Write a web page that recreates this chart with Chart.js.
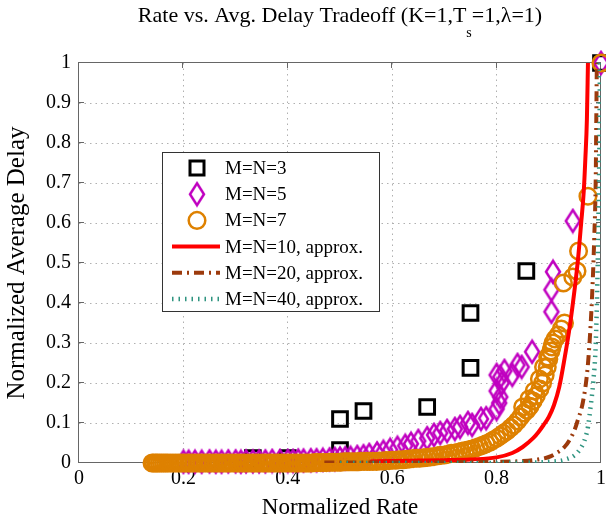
<!DOCTYPE html>
<html>
<head>
<meta charset="utf-8">
<script src="https://cdn.jsdelivr.net/npm/chart.js@4.4.1/dist/chart.umd.min.js"></script>
<style>
body { margin: 0; background: #fff; }
</style>
</head>
<body>
<canvas id="tradeoffChart" width="606" height="525"></canvas>
<script>
// values
const titleParts = [
    { text: 'Rate vs. Avg. Delay Tradeoff (K=1,T' },
    { text: 's', sub: true },
    { text: '=1,\u03bb=1)' }
]
const xAxisLabel = 'Normalized Rate'
const yAxisLabel = 'Normalized Average Delay'
const xTicks = [0, 0.2, 0.4, 0.6, 0.8, 1]
const yTicks = [0, 0.1, 0.2, 0.3, 0.4, 0.5, 0.6, 0.7, 0.8, 0.9, 1]
const seriesNames = ['M=N=3', 'M=N=5', 'M=N=7', 'M=N=10, approx.', 'M=N=20, approx.', 'M=N=40, approx.']

// M=N=3 (squares)
const n3Rate = [0.333, 0.4, 0.5, 0.5, 0.545, 0.667, 0.75, 0.75, 0.857, 1]
const n3Delay = [0.012, 0.012, 0.032, 0.11, 0.13, 0.14, 0.238, 0.375, 0.48, 1]

// M=N=5 (diamonds)
const n5Rate = [0.2, 0.21, 0.222, 0.235, 0.25, 0.262, 0.273, 0.286, 0.3, 0.31, 0.32, 0.333, 0.345, 0.357,
    0.37, 0.385, 0.4, 0.41, 0.42, 0.43, 0.444, 0.455, 0.467, 0.48, 0.49, 0.5, 0.51, 0.52, 0.533, 0.545,
    0.556, 0.571, 0.583, 0.596, 0.61, 0.625, 0.636, 0.65, 0.667, 0.68, 0.692, 0.705, 0.72, 0.73, 0.745,
    0.753, 0.77, 0.78, 0.8, 0.805, 0.807, 0.8, 0.81, 0.807, 0.8, 0.815, 0.83, 0.84, 0.848, 0.868,
    0.905, 0.905, 0.908, 0.946, 1]
const n5Delay = [0.003, 0.003, 0.003, 0.003, 0.004, 0.003, 0.003, 0.004, 0.004, 0.003, 0.004, 0.004, 0.004, 0.004,
    0.005, 0.005, 0.005, 0.005, 0.006, 0.006, 0.007, 0.007, 0.008, 0.009, 0.01, 0.011, 0.012, 0.013, 0.015, 0.017,
    0.02, 0.024, 0.028, 0.033, 0.038, 0.043, 0.048, 0.055, 0.062, 0.07, 0.075, 0.08, 0.085, 0.09, 0.1,
    0.095, 0.11, 0.112, 0.135, 0.15, 0.165, 0.18, 0.2, 0.215, 0.22, 0.23, 0.22, 0.245, 0.24, 0.278,
    0.378, 0.433, 0.478, 0.605, 1]

// M=N=7 (circles)
const n7Rate = [0.14, 0.143, 0.147, 0.15, 0.154, 0.158, 0.162, 0.166, 0.17, 0.175, 0.18, 0.185, 0.19, 0.195,
    0.2, 0.205, 0.21, 0.215, 0.22, 0.226, 0.231, 0.236, 0.242, 0.247, 0.252, 0.258, 0.263, 0.268, 0.274,
    0.28, 0.285, 0.29, 0.296, 0.302, 0.307, 0.313, 0.318, 0.324, 0.33, 0.335, 0.34, 0.346, 0.352, 0.357,
    0.363, 0.368, 0.374, 0.38, 0.385, 0.39, 0.396, 0.402, 0.407, 0.413, 0.418, 0.424, 0.43, 0.435, 0.44,
    0.446, 0.452, 0.457, 0.463, 0.468, 0.474, 0.48, 0.485, 0.49, 0.496, 0.502, 0.507, 0.513, 0.518, 0.524,
    0.53, 0.535, 0.54, 0.546, 0.552, 0.557, 0.563, 0.57, 0.576, 0.582, 0.588, 0.594, 0.6, 0.607, 0.613,
    0.62, 0.627, 0.633, 0.64, 0.647, 0.653, 0.66, 0.667, 0.673, 0.68, 0.687, 0.693, 0.7, 0.707, 0.713,
    0.72, 0.727, 0.733, 0.74, 0.747, 0.753, 0.76, 0.767, 0.773, 0.78, 0.787, 0.793, 0.8, 0.807, 0.813,
    0.82, 0.827, 0.833, 0.84, 0.846, 0.852, 0.858, 0.864, 0.87, 0.876, 0.883, 0.888, 0.893, 0.897, 0.9,
    0.904, 0.908, 0.912, 0.918, 0.924, 0.93, 0.928, 0.946, 0.954, 0.957, 0.975, 1,
    0.85, 0.862, 0.872, 0.882, 0.89, 0.898, 0.906]
const n7Delay = [0, 0, 0, 0, 0, 0, 0, 0, 0, 0, 0, 0, 0, 0,
    0, 0, 0, 0, 0, 0, 0, 0, 0, 0, 0, 0, 0, 0, 0,
    0, 0, 0, 0, 0, 0, 0, 0, 0, 0, 0, 0, 0, 0, 0,
    0, 0, 0, 0, 0, 0, 0, 0, 0, 0, 0, 0, 0, 0, 0,
    0, 0.001, 0.001, 0.001, 0.001, 0.001, 0.002, 0.002, 0.002, 0.002, 0.002, 0.003, 0.003, 0.003, 0.003,
    0.003, 0.003, 0.004, 0.004, 0.004, 0.004, 0.004, 0.004, 0.005, 0.005, 0.006, 0.006, 0.007, 0.007, 0.008,
    0.008, 0.009, 0.01, 0.011, 0.012, 0.012, 0.013, 0.014, 0.015, 0.016, 0.018, 0.019, 0.02, 0.022, 0.024,
    0.025, 0.027, 0.029, 0.031, 0.033, 0.035, 0.038, 0.041, 0.044, 0.048, 0.052, 0.057, 0.062, 0.068, 0.074,
    0.08, 0.088, 0.095, 0.105, 0.115, 0.125, 0.132, 0.142, 0.155, 0.168, 0.185, 0.2, 0.22, 0.24, 0.26,
    0.28, 0.3, 0.31, 0.32, 0.335, 0.35, 0.45, 0.465, 0.48, 0.53, 0.667, 1,
    0.14, 0.16, 0.18, 0.21, 0.24, 0.265, 0.29]

// approximations (lines)
const n10Rate = [0.557, 0.6, 0.65, 0.7, 0.75, 0.8, 0.83, 0.85, 0.87, 0.88, 0.89, 0.9, 0.91, 0.92, 0.93, 0.94, 0.95, 0.956, 0.962, 0.967, 0.97, 0.973, 0.975]
const n10Delay = [0.004, 0.005, 0.006, 0.007, 0.009, 0.014, 0.025, 0.04, 0.062, 0.077, 0.095, 0.115, 0.145, 0.19, 0.26, 0.34, 0.44, 0.51, 0.6, 0.68, 0.76, 0.86, 1]
const n20Rate = [0.47, 0.6, 0.7, 0.8, 0.85, 0.88, 0.9, 0.915, 0.93, 0.94, 0.95, 0.955, 0.965, 0.973, 0.978, 0.983, 0.987, 0.99, 0.991, 0.992]
const n20Delay = [0.001, 0.001, 0.002, 0.003, 0.005, 0.009, 0.015, 0.025, 0.04, 0.058, 0.085, 0.105, 0.15, 0.22, 0.3, 0.42, 0.56, 0.72, 0.86, 1]
const n40Rate = [0.5, 0.7, 0.85, 0.9, 0.93, 0.95, 0.96, 0.968, 0.975, 0.98, 0.985, 0.99, 0.993, 0.995, 0.997, 0.998]
const n40Delay = [0, 0, 0.001, 0.003, 0.008, 0.02, 0.035, 0.055, 0.09, 0.14, 0.2, 0.3, 0.45, 0.6, 0.8, 1]

const serif = '"Liberation Serif", "Times New Roman", serif'
const orange = '#de8100'
const magenta = '#c000c0'
const red = '#ff0000'
const brown = '#9c3a0c'
const teal = '#2f9480'

function pts(xs, ys) {
    return xs.map(function(x, i) { return { x: x, y: ys[i] } })
}

// tall diamond marker like matlab's
function makeDiamond(color) {
    const c = document.createElement('canvas')
    c.width = 20
    c.height = 27
    const g = c.getContext('2d')
    g.strokeStyle = color
    g.lineWidth = 2.5
    g.beginPath()
    g.moveTo(10, 2.5)
    g.lineTo(17, 13.5)
    g.lineTo(10, 24.5)
    g.lineTo(3, 13.5)
    g.closePath()
    g.stroke()
    return c
}
const diamondMark = makeDiamond(magenta)

// axes box + inward ticks
const framePlugin = {
    id: 'frame',
    beforeDatasetsDraw(chart) {
        const ctx = chart.ctx
        const a = chart.chartArea
        const xs = chart.scales.x
        const ys = chart.scales.y
        ctx.save()
        ctx.strokeStyle = '#666'
        ctx.lineWidth = 1
        ctx.strokeRect(a.left - 0.5, a.top - 0.5, a.right - a.left, a.bottom - a.top)
        ctx.beginPath()
        xTicks.forEach(function(v) {
            const p = Math.round(xs.getPixelForValue(v)) - 0.5
            ctx.moveTo(p, a.bottom); ctx.lineTo(p, a.bottom - 5)
            ctx.moveTo(p, a.top); ctx.lineTo(p, a.top + 5)
        })
        yTicks.forEach(function(v) {
            const p = Math.round(ys.getPixelForValue(v)) - 0.5
            ctx.moveTo(a.left, p); ctx.lineTo(a.left + 5, p)
            ctx.moveTo(a.right, p); ctx.lineTo(a.right - 5, p)
        })
        ctx.stroke()
        ctx.restore()
    }
}

// title with subscript
const titlePlugin = {
    id: 'subTitle',
    afterDraw(chart) {
        const ctx = chart.ctx
        const mainFont = '22px ' + serif
        const subFont = '14px ' + serif
        ctx.save()
        let w = 0
        titleParts.forEach(function(p) {
            ctx.font = p.sub ? subFont : mainFont
            w += ctx.measureText(p.text).width
        })
        let x = (chart.chartArea.left + chart.chartArea.right) / 2 - w / 2
        ctx.fillStyle = '#000'
        ctx.textBaseline = 'alphabetic'
        titleParts.forEach(function(p) {
            ctx.font = p.sub ? subFont : mainFont
            ctx.fillText(p.text, x, p.sub ? 37 : 22)
            x += ctx.measureText(p.text).width
        })
        ctx.restore()
    }
}

// legend box inside the plot
const legendPlugin = {
    id: 'boxLegend',
    afterDatasetsDraw(chart) {
        const ctx = chart.ctx
        const bx = 162, by = 152, bw = 217, bh = 159
        ctx.save()
        ctx.fillStyle = '#fff'
        ctx.fillRect(bx, by, bw, bh)
        ctx.strokeStyle = '#333'
        ctx.lineWidth = 1
        ctx.strokeRect(bx + 0.5, by + 0.5, bw, bh)
        chart.data.datasets.forEach(function(ds, i) {
            const cy = 168 + i * 26.2
            const cx = 197
            ctx.save()
            if (ds.showLine) {
                ctx.strokeStyle = ds.borderColor
                ctx.lineWidth = ds.borderWidth
                ctx.setLineDash(ds.borderDash || [])
                ctx.beginPath()
                ctx.moveTo(172, cy)
                ctx.lineTo(220, cy)
                ctx.stroke()
            } else if (ds.pointStyle === 'rect') {
                ctx.strokeStyle = ds.borderColor
                ctx.lineWidth = 3
                ctx.strokeRect(cx - 7, cy - 7, 14, 14)
            } else if (ds.pointStyle === 'circle') {
                ctx.strokeStyle = ds.borderColor
                ctx.lineWidth = 2.5
                ctx.beginPath()
                ctx.arc(cx, cy, 8.3, 0, Math.PI * 2)
                ctx.stroke()
            } else {
                ctx.drawImage(ds.pointStyle, cx - ds.pointStyle.width / 2, cy - ds.pointStyle.height / 2)
            }
            ctx.restore()
            ctx.fillStyle = '#000'
            ctx.font = '19px ' + serif
            ctx.textBaseline = 'middle'
            ctx.fillText(seriesNames[i], 225, cy + 1)
        })
        ctx.restore()
    }
}

const canvas = document.getElementById('tradeoffChart')
new Chart(canvas, {
    type: 'scatter',
    data: {
        datasets: [
            {
                label: seriesNames[0], data: pts(n3Rate, n3Delay), order: 6, clip: false,
                pointStyle: 'rect', pointRadius: 10.4, borderColor: '#000', borderWidth: 3,
                backgroundColor: 'rgba(0,0,0,0)'
            },
            {
                label: seriesNames[1], data: pts(n5Rate, n5Delay), order: 5, clip: false,
                pointStyle: diamondMark, pointRadius: 8, borderColor: magenta,
                backgroundColor: 'rgba(0,0,0,0)'
            },
            {
                label: seriesNames[2], data: pts(n7Rate, n7Delay), order: 4, clip: false,
                pointStyle: 'circle', pointRadius: 8.3, borderColor: orange, borderWidth: 2.5,
                backgroundColor: 'rgba(0,0,0,0)'
            },
            {
                label: seriesNames[3], data: pts(n10Rate, n10Delay), order: 3, showLine: true,
                pointRadius: 0, borderColor: red, borderWidth: 4, cubicInterpolationMode: 'monotone'
            },
            {
                label: seriesNames[4], data: pts(n20Rate, n20Delay), order: 2, showLine: true,
                pointRadius: 0, borderColor: brown, borderWidth: 4, borderDash: [10, 5, 2, 5],
                cubicInterpolationMode: 'monotone'
            },
            {
                label: seriesNames[5], data: pts(n40Rate, n40Delay), order: 1, showLine: true,
                pointRadius: 0, borderColor: teal, borderWidth: 4.5, borderDash: [1.5, 5],
                cubicInterpolationMode: 'monotone'
            }
        ]
    },
    options: {
        responsive: false,
        animation: false,
        events: [],
        layout: { autoPadding: false, padding: { top: 63, right: 5, left: 0, bottom: 0 } },
        plugins: {
            legend: { display: false },
            tooltip: { enabled: false },
            title: { display: false }
        },
        scales: {
            x: {
                type: 'linear', min: 0, max: 1,
                afterBuildTicks: function(s) { s.ticks = xTicks.map(function(v) { return { value: v } }) },
                afterFit: function(s) {
                    s.height = 62
                    s.paddingLeft = 0
                    s.paddingRight = 0
                },
                grid: {
                    drawTicks: false,
                    color: function(c) { return (c.tick && (c.tick.value === 0 || c.tick.value === 1)) ? 'rgba(0,0,0,0)' : '#b0b0b0' }
                },
                border: { display: false, dash: [1.5, 4] },
                ticks: {
                    color: '#000', padding: 4, maxRotation: 0,
                    font: { family: serif, size: 20 },
                    callback: function(v) { return String(v) }
                },
                title: {
                    display: true, text: xAxisLabel, color: '#000',
                    font: { family: serif, size: 23 }, padding: { top: 0, bottom: 3 }
                }
            },
            y: {
                type: 'linear', min: 0, max: 1,
                afterBuildTicks: function(s) { s.ticks = yTicks.map(function(v) { return { value: v } }) },
                afterFit: function(s) { s.width = 79 },
                grid: {
                    drawTicks: false,
                    color: function(c) { return (c.tick && (c.tick.value === 0 || c.tick.value === 1)) ? 'rgba(0,0,0,0)' : '#b0b0b0' }
                },
                border: { display: false, dash: [1.5, 4] },
                ticks: {
                    color: '#000', padding: 8,
                    font: { family: serif, size: 20 },
                    callback: function(v) { return String(v) }
                },
                title: {
                    display: true, text: yAxisLabel, color: '#000',
                    font: { family: serif, size: 25 }, padding: { top: 2, bottom: 0 }
                }
            }
        }
    },
    plugins: [framePlugin, titlePlugin, legendPlugin]
})
</script>
</body>
</html>
